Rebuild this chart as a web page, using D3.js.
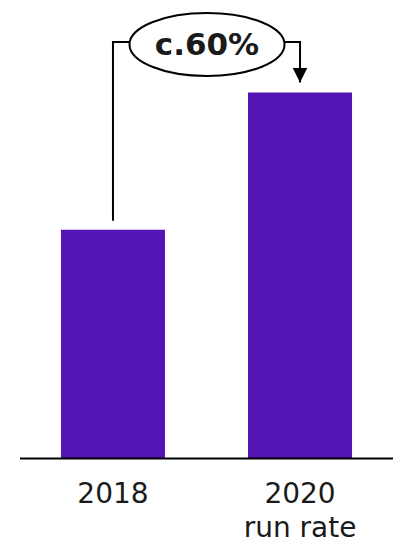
<!DOCTYPE html>
<html>
<head>
<meta charset="utf-8">
<script src="https://cdn.jsdelivr.net/npm/d3@7"></script>
<style>
  body { margin: 0; background: #fff; }
  text { font-family: "DejaVu Sans", sans-serif; }
</style>
</head>
<body>
<div id="chart"></div>
<script>
// data
const categories = ["2018", "2020"];
const tickLabels = [["2018"], ["2020", "run rate"]];
const values = [100, 160];
const growthLabel = "c.60%";

const width = 403, height = 546;
const barColor = "#5514b4";

const svg = d3.select("#chart").append("svg")
    .attr("width", width)
    .attr("height", height);

// scales
const x = d3.scaleBand()
    .domain(categories)
    .range([20, 393])
    .paddingInner(0.444)
    .paddingOuter(0.219);

const y = d3.scaleLinear()
    .domain([0, 160])
    .range([458.5, 92.5]);

// bars
svg.selectAll("rect.bar")
    .data(values)
    .enter()
    .append("rect")
    .attr("class", "bar")
    .attr("x", (d, i) => x(categories[i]))
    .attr("y", d => y(d))
    .attr("width", x.bandwidth())
    .attr("height", d => y(0) - y(d))
    .attr("fill", barColor);

// baseline
svg.append("line")
    .attr("x1", 20).attr("x2", 393)
    .attr("y1", y(0)).attr("y2", y(0))
    .attr("stroke", "#000")
    .attr("stroke-width", 2);

// category labels
const labels = svg.selectAll("text.tick")
    .data(tickLabels)
    .enter()
    .append("text")
    .attr("class", "tick")
    .attr("text-anchor", "middle")
    .attr("font-size", 28)
    .attr("fill", "#1a1a1a")
    .attr("x", (d, i) => x(categories[i]) + x.bandwidth() / 2)
    .attr("y", 503);
labels.selectAll("tspan")
    .data(d => d)
    .enter()
    .append("tspan")
    .attr("x", function() { return d3.select(this.parentNode).attr("x"); })
    .attr("dy", (d, i) => i === 0 ? 0 : 34)
    .text(d => d);

// growth bracket
const cx1 = x(categories[0]) + x.bandwidth() / 2,
      cx2 = x(categories[1]) + x.bandwidth() / 2;
const topY = 42;
const ell = {cx: (cx1 + cx2) / 2 + 0.5, cy: 44.5, rx: 77.5, ry: 31.5};

svg.append("defs").append("marker")
    .attr("id", "arrow")
    .attr("viewBox", "0 0 10 10")
    .attr("refX", 10).attr("refY", 5)
    .attr("markerWidth", 7.5).attr("markerHeight", 7.5)
    .attr("markerUnits", "strokeWidth")
    .attr("orient", "auto")
    .append("path")
    .attr("d", "M0,0 L10,5 L0,10 Z")
    .attr("fill", "#000");

svg.append("path")
    .attr("d", `M${cx1},${y(values[0]) - 9} V${topY} H${ell.cx - ell.rx}`)
    .attr("fill", "none")
    .attr("stroke", "#000")
    .attr("stroke-width", 2);

svg.append("path")
    .attr("d", `M${ell.cx + ell.rx},${topY} H${cx2} V${y(values[1]) - 10}`)
    .attr("fill", "none")
    .attr("stroke", "#000")
    .attr("stroke-width", 2)
    .attr("marker-end", "url(#arrow)");

svg.append("ellipse")
    .attr("cx", ell.cx).attr("cy", ell.cy)
    .attr("rx", ell.rx).attr("ry", ell.ry)
    .attr("fill", "#fff")
    .attr("stroke", "#000")
    .attr("stroke-width", 2);

svg.append("text")
    .attr("x", ell.cx)
    .attr("y", 55)
    .attr("text-anchor", "middle")
    .attr("font-size", 31)
    .attr("font-weight", "bold")
    .attr("fill", "#1a1a1a")
    .text(growthLabel);
</script>
</body>
</html>
